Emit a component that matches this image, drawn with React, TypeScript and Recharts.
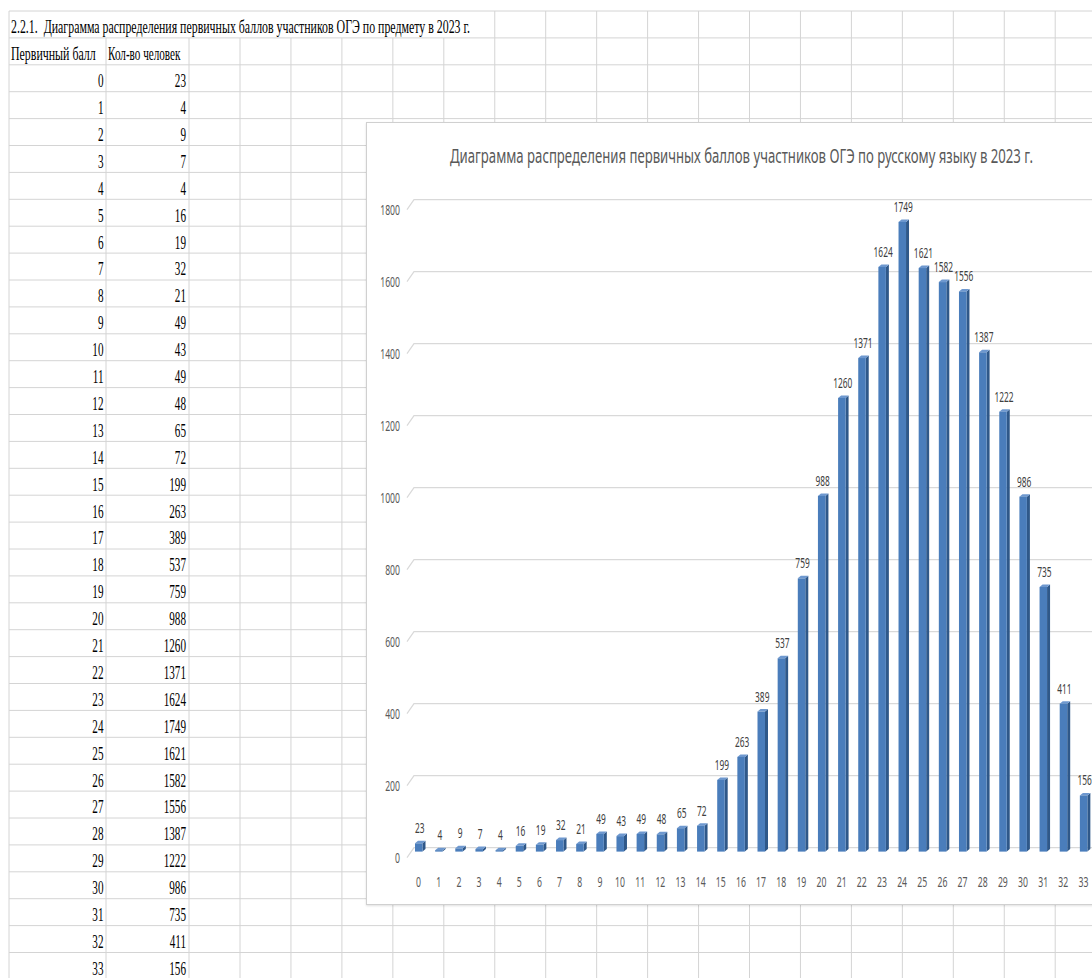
import React from "react";
import { BarChart, Bar, XAxis, YAxis, CartesianGrid, LabelList } from "recharts";

// Excel sheet + 3D column chart: primary score distribution, OGE 2023.

const scores = [
  "0", "1", "2", "3", "4", "5", "6", "7", "8", "9", "10", "11",
  "12", "13", "14", "15", "16", "17", "18", "19", "20", "21", "22", "23",
  "24", "25", "26", "27", "28", "29", "30", "31", "32", "33",
];
const counts = [
  23, 4, 9, 7, 4, 16, 19, 32, 21, 49, 43, 49,
  48, 65, 72, 199, 263, 389, 537, 759, 988, 1260, 1371, 1624,
  1749, 1621, 1582, 1556, 1387, 1222, 986, 735, 411, 156,
];
const yTicks = [0, 200, 400, 600, 800, 1000, 1200, 1400, 1600, 1800];

const sheetTitle =
  "2.2.1.  Диаграмма распределения первичных баллов участников ОГЭ по предмету в 2023 г.";
const colHeaders = ["Первичный балл", "Кол-во человек"];
const chartTitle =
  "Диаграмма распределения первичных баллов участников ОГЭ по русскому языку в 2023 г.";

const data = scores.map((s, i) => ({ score: s, count: counts[i] }));

// sheet layout
const W = 1092;
const H = 978;
const ROW_TOP = 11;
const ROW_H = 26.9;
const COL_X = [9, 106, 189, ...Array.from({ length: 18 }, (_, k) => 240 + 50.95 * k)];
const GRID = "#d4d4d4";
const SERIF = "'Liberation Serif', 'Times New Roman', serif";
const SANS = "'Noto Sans', 'Open Sans', sans-serif";

// chart box (extends past the right edge of the window)
const BOX = { left: 366, top: 122, width: 760, height: 783 };

const rowBottom = (k: number) => ROW_TOP + ROW_H * (k + 1);

function Sheet() {
  const nRows = 36;
  const hLines = Array.from({ length: nRows + 1 }, (_, k) => ROW_TOP + ROW_H * k);
  return (
    <svg width={W} height={H} style={{ position: "absolute", left: 0, top: 0 }}>
      {hLines.map((y, k) => (
        <line key={`h${k}`} x1={COL_X[0]} x2={W} y1={y} y2={y} stroke={GRID} strokeWidth={1} />
      ))}
      {COL_X.map((x, i) => (
        <line
          key={`v${i}`}
          x1={x}
          x2={x}
          // title text overflows across the first columns of row 1
          y1={i === 0 || x > 470 ? ROW_TOP : rowBottom(0)}
          y2={H}
          stroke={GRID}
          strokeWidth={1}
        />
      ))}
      <g fontFamily={SERIF} fontSize={18} fill="#000">
        <text
          x={11}
          y={rowBottom(0) - 4.6}
          textLength={459}
          lengthAdjust="spacingAndGlyphs"
          style={{ whiteSpace: "pre" }}
        >
          {sheetTitle}
        </text>
        <text transform={`translate(11,${rowBottom(1) - 4.6}) scale(0.66,1)`}>{colHeaders[0]}</text>
        <text transform={`translate(108,${rowBottom(1) - 4.6}) scale(0.62,1)`}>{colHeaders[1]}</text>
        {data.map((d, i) => {
          const y = rowBottom(i + 2) - 4.6;
          return (
            <g key={d.score}>
              <text transform={`translate(103.5,${y}) scale(0.62,1)`} textAnchor="end">
                {d.score}
              </text>
              <text transform={`translate(186,${y}) scale(0.62,1)`} textAnchor="end">
                {d.count}
              </text>
            </g>
          );
        })}
      </g>
    </svg>
  );
}

// 3D-looking column: front face, darker right side, lighter top
function Column3D(props: any) {
  const { x, y, width, height } = props;
  if (x == null || y == null) return null;
  const d = 3;
  const dy = 2.5;
  const h = Math.max(height, 0.8);
  return (
    <g>
      <polygon
        points={`${x + width},${y} ${x + width + d},${y - dy} ${x + width + d},${y + h - dy} ${x + width},${y + h}`}
        fill="#2f5889"
      />
      <polygon
        points={`${x},${y} ${x + d},${y - dy} ${x + width + d},${y - dy} ${x + width},${y}`}
        fill="#6e98cf"
      />
      <rect x={x} y={y} width={width} height={h} fill="#4a7dbb" />
    </g>
  );
}

function gridLine(p: any) {
  const { x1, x2, y1 } = p;
  return (
    <path
      key={p.key ?? `g${p.index}`}
      d={`M${x1 - 2},${y1 + 6} L${x1 + 5},${y1 - 4} H${x2 + 40}`}
      stroke="#d9d9d9"
      strokeWidth={1.2}
      fill="none"
    />
  );
}

function YTick(p: any) {
  return (
    <text
      transform={`translate(34,${p.y + 11.5}) scale(0.62,1)`}
      textAnchor="end"
      fontFamily={SANS}
      fontSize={14}
      fill="#595959"
    >
      {p.payload.value}
    </text>
  );
}

function XTick(p: any) {
  return (
    <text
      transform={`translate(${p.x - 0.5},${p.y + 27}) scale(0.62,1)`}
      textAnchor="middle"
      fontFamily={SANS}
      fontSize={14}
      fill="#595959"
    >
      {p.payload.value}
    </text>
  );
}

function ValueLabel(p: any) {
  const { x, y, width, value } = p;
  return (
    <text
      transform={`translate(${x + width / 2 + 1},${y - 10}) scale(0.62,1)`}
      textAnchor="middle"
      fontFamily={SANS}
      fontSize={13.5}
      fill="#404040"
    >
      {value}
    </text>
  );
}

export default function App() {
  const titleScale = 0.675;
  return (
    <div
      style={{
        position: "fixed",
        left: 0,
        top: 0,
        width: W,
        height: H,
        overflow: "hidden",
        background: "#fff",
      }}
    >
      <Sheet />
      <div
        style={{
          position: "absolute",
          left: BOX.left,
          top: BOX.top,
          width: BOX.width,
          height: BOX.height,
          background: "#fff",
          border: "1px solid #d0d0d0",
          boxSizing: "border-box",
          boxShadow: "0 1px 2px rgba(0,0,0,0.12)",
        }}
      >
        <svg
          width={700}
          height={60}
          style={{ position: "absolute", left: -1, top: -1, overflow: "visible" }}
        >
          <text
            transform={`translate(84,41) scale(${titleScale},1)`}
            textLength={583 / titleScale}
            lengthAdjust="spacingAndGlyphs"
            fontFamily={SANS}
            fontSize={20}
            fill="#595959"
          >
            {chartTitle}
          </text>
        </svg>
        <div style={{ position: "absolute", left: -1, top: -1 }}>
          <BarChart
            width={BOX.width}
            height={BOX.height}
            data={data}
            margin={{ top: 81.6, right: 32, bottom: 23.4, left: 0 }}
          >
            <CartesianGrid vertical={false} horizontal={gridLine} />
            <XAxis
              dataKey="score"
              axisLine={false}
              tickLine={false}
              interval={0}
              tick={<XTick />}
            />
            <YAxis
              width={43}
              domain={[0, 1800]}
              ticks={yTicks}
              axisLine={false}
              tickLine={false}
              tick={<YTick />}
            />
            <Bar dataKey="count" barSize={7.5} shape={<Column3D />} isAnimationActive={false}>
              <LabelList dataKey="count" content={<ValueLabel />} />
            </Bar>
          </BarChart>
        </div>
      </div>
    </div>
  );
}
